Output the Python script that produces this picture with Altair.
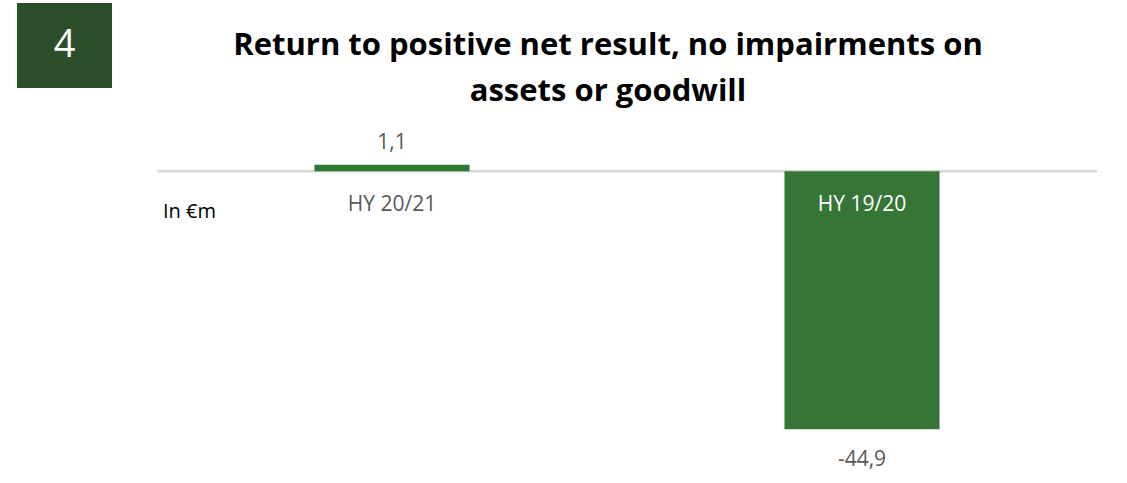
import altair as alt
import pandas as pd

categories = ["HY 20/21", "HY 19/20"]
values = [1.1, -44.9]
value_labels = ["1,1", "-44,9"]
title_lines = ["Return to positive net result, no impairments on", "assets or goodwill"]
badge_text = "4"
unit_text = "In €m"

df = pd.DataFrame({"cat": categories, "val": values, "lab": value_labels,
                   "pos": [v >= 0 for v in values]})
dummy = pd.DataFrame({"d": [0]})

FONT = "Open Sans"
xenc = alt.X("cat:N", sort=categories, axis=None,
             scale=alt.Scale(paddingInner=0.67, paddingOuter=0.335))
yscale = alt.Scale(domain=[-52.0, 8.9], nice=False, zero=False)
yenc = alt.Y("val:Q", scale=yscale, axis=None)

base = alt.Chart(df)

zero = alt.Chart(dummy).mark_rule(color="#d9d9d9", strokeWidth=2.5).encode(
    x=alt.value(0), x2=alt.value(940),
    y=alt.Y("d:Q", scale=yscale, axis=None))

bars = base.mark_bar(color="#357535").encode(x=xenc, y=yenc, y2=alt.datum(0))

pos_lab = base.transform_filter("datum.val >= 0").mark_text(
    font=FONT, fontSize=21, color="#595959", baseline="bottom", dy=-12).encode(
    x=xenc, y=yenc, text="lab:N")
neg_lab = base.transform_filter("datum.val < 0").mark_text(
    font=FONT, fontSize=21, color="#595959", baseline="top", dy=20).encode(
    x=xenc, y=yenc, text="lab:N")

cat_lab = base.mark_text(font=FONT, fontSize=21, baseline="middle", dy=34).encode(
    x=xenc, y=alt.datum(0, scale=yscale),
    text="cat:N",
    color=alt.condition("datum.val >= 0", alt.value("#595959"), alt.value("#ffffff")))

unit = alt.Chart(dummy).mark_text(font=FONT, fontSize=20, color="#000000",
                                  align="left", baseline="middle").encode(
    x=alt.value(6), y=alt.value(92), text=alt.value(unit_text))

title1 = alt.Chart(dummy).mark_text(font=FONT, fontSize=31, fontWeight="bold",
                                    color="#000000", align="center", baseline="middle").encode(
    x=alt.value(451), y=alt.value(-74), text=alt.value(title_lines[0]))
title2 = alt.Chart(dummy).mark_text(font=FONT, fontSize=31, fontWeight="bold",
                                    color="#000000", align="center", baseline="middle").encode(
    x=alt.value(451), y=alt.value(-28), text=alt.value(title_lines[1]))

badge = alt.Chart(dummy).mark_rect(color="#2a4f2a").encode(
    x=alt.value(-140), x2=alt.value(-45), y=alt.value(-117), y2=alt.value(-32))
badge_t = alt.Chart(dummy).mark_text(font=FONT, fontSize=38, color="#ffffff",
                                     align="center", baseline="middle").encode(
    x=alt.value(-92.5), y=alt.value(-74), text=alt.value(badge_text))

chart = alt.layer(zero, bars, pos_lab, neg_lab, cat_lab, unit, title1, title2, badge, badge_t).properties(
    width=940, height=350,
    padding={"left": 157, "top": 120, "right": 30, "bottom": 13},
    autosize=alt.AutoSizeParams(type="none"),
    background="#ffffff",
).configure_view(stroke=None)

chart.save("out.html", embed_options={"renderer": "svg", "actions": False})
